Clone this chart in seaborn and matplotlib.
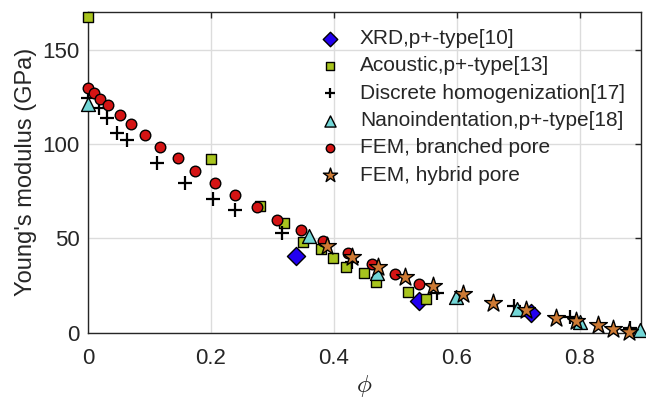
import numpy as np
import pandas as pd
import seaborn as sns
import matplotlib.pyplot as plt

# values (porosity phi, Young's modulus in GPa)
xrd_phi = [0.339, 0.539, 0.720]
xrd_E = [40.7, 17.0, 10.3]

acoustic_phi = [0.0, 0.200, 0.280, 0.319, 0.349, 0.379, 0.399, 0.419, 0.449, 0.469, 0.520, 0.550]
acoustic_E = [167.0, 91.8, 67.2, 58.3, 48.3, 44.3, 39.5, 34.8, 31.9, 26.7, 21.9, 18.0]

discrete_phi = [0.0, 0.018, 0.031, 0.047, 0.064, 0.112, 0.158, 0.204, 0.240, 0.316,
                0.429, 0.567, 0.692, 0.784, 0.881]
discrete_E = [124.5, 119.0, 114.0, 106.0, 102.2, 89.8, 79.5, 71.0, 65.3, 53.0,
              37.7, 21.0, 14.0, 8.2, 2.6]

nano_phi = [0.0, 0.359, 0.470, 0.598, 0.697, 0.800, 0.898]
nano_E = [121.0, 51.4, 31.9, 18.8, 12.8, 6.0, 1.8]

branched_phi = [0.0, 0.010, 0.019, 0.033, 0.052, 0.070, 0.093, 0.118, 0.146, 0.174,
                0.206, 0.239, 0.275, 0.308, 0.347, 0.382, 0.423, 0.462, 0.500, 0.539]
branched_E = [129.5, 127.2, 124.0, 120.5, 115.3, 110.7, 104.9, 98.4, 92.6, 85.9,
              79.5, 73.2, 66.5, 60.0, 54.4, 48.4, 42.3, 36.3, 31.1, 25.8]

hybrid_phi = [0.388, 0.430, 0.472, 0.515, 0.561, 0.610, 0.658, 0.712, 0.761, 0.793,
              0.830, 0.854, 0.880]
hybrid_E = [45.9, 40.0, 35.0, 29.5, 25.0, 20.4, 15.8, 12.3, 8.1, 6.1,
            4.1, 2.2, 0.7]

series = [
    ("XRD,p+-type[10]", xrd_phi, xrd_E, "D", "#2200f0", 85),
    ("Acoustic,p+-type[13]", acoustic_phi, acoustic_E, "s", "#a8c41e", 62),
    ("Discrete homogenization[17]", discrete_phi, discrete_E, "+", "black", 90),
    ("Nanoindentation,p+-type[18]", nano_phi, nano_E, "^", "#72d6d6", 100),
    ("FEM, branched pore", branched_phi, branched_E, "o", "#d41414", 58),
    ("FEM, hybrid pore", hybrid_phi, hybrid_E, "*", "#cd7a34", 180),
]

sns.set_style("white")
plt.rcParams['font.family'] = ['Liberation Sans', 'DejaVu Sans']
plt.rcParams['mathtext.fontset'] = 'cm'

fig = plt.figure(figsize=(6.46, 4.05), dpi=100)
ax = fig.add_axes([0.136, 0.178, 0.857, 0.793])

for label, phi, E, marker, color, size in series:
    df = pd.DataFrame({"phi": phi, "E": E})
    if marker == "+":
        sns.scatterplot(data=df, x="phi", y="E", marker=marker, color=color,
                        s=size, linewidth=1.6, ax=ax, label=label, zorder=3,
                        clip_on=False)
    else:
        sns.scatterplot(data=df, x="phi", y="E", marker=marker, color=color,
                        s=size, edgecolor="black", linewidth=1.0, ax=ax,
                        label=label, zorder=3, clip_on=False)

ax.set_xlim(0, 0.9)
ax.set_ylim(0, 170)
ax.set_xticks([0, 0.2, 0.4, 0.6, 0.8])
ax.set_xticklabels(["0", "0.2", "0.4", "0.6", "0.8"])
ax.set_yticks([0, 50, 100, 150])
ax.grid(True, color="#dcdcdc", linewidth=1.0)
ax.set_axisbelow(True)
for sp in ax.spines.values():
    sp.set_color("#262626")
    sp.set_linewidth(1.0)
ax.tick_params(direction="in", length=4, width=1.0, color="#262626",
               labelsize=16, top=True, right=True)
ax.tick_params(axis="x", pad=11)
ax.tick_params(axis="y", pad=6)

ax.set_xlabel(r"$\phi$", fontsize=18, labelpad=3)
ax.set_ylabel("Young's modulus (GPa)", fontsize=17, labelpad=4)

ax.legend(loc="upper left", bbox_to_anchor=(314 / 646, 1 - 29 / 405),
          bbox_transform=fig.transFigure, frameon=False,
          fontsize=15, labelspacing=0.4, handlelength=1.5, handletextpad=0.7,
          markerscale=0.8, borderaxespad=0, borderpad=0)

fig.savefig("out.png", dpi=100)
